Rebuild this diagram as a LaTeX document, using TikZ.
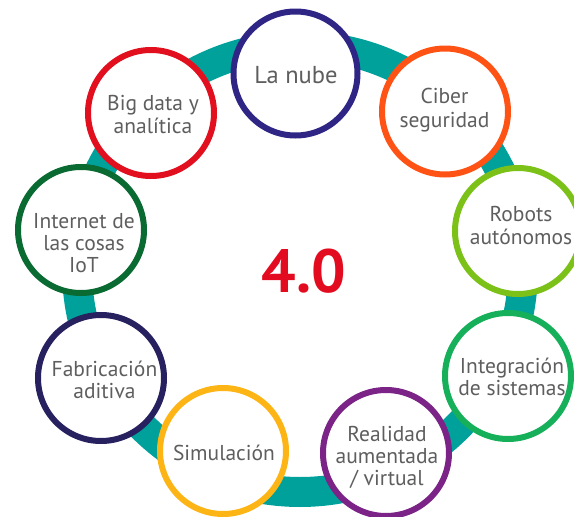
\documentclass[tikz,border=0pt]{standalone}
\usepackage{fontspec}
\setmainfont{PT Sans}
\definecolor{ringteal}{HTML}{00A19A}
\definecolor{cnube}{HTML}{2E2585}
\definecolor{cciber}{HTML}{FF5215}
\definecolor{cbig}{HTML}{E2101F}
\definecolor{cinternet}{HTML}{0A6B32}
\definecolor{crobots}{HTML}{7CC118}
\definecolor{cfab}{HTML}{28215F}
\definecolor{cinteg}{HTML}{17B05A}
\definecolor{csimul}{HTML}{FDB515}
\definecolor{creal}{HTML}{7B2386}
\definecolor{cfour}{HTML}{E30B1F}
\definecolor{txtgray}{HTML}{5E5E5E}
\begin{document}
\begin{tikzpicture}[x=1pt,y=-1pt,
  bubble/.style={circle, draw=#1, line width=6pt, fill=white, minimum size=126pt, inner sep=0pt},
  lbl/.style={anchor=north, align=center, inner sep=0pt, text=txtgray, font=\fontsize{21.5}{22}\selectfont},
  ringline/.style={draw=ringteal, line width=30pt}]
\useasboundingbox (0,0) rectangle (574,517);
\clip (0,0) rectangle (574,517);
\coordinate (ringc) at (300,269);
\draw[ringline] (ringc) circle[radius=223];
% circles
\node[bubble=cnube, minimum size=124pt] (nube) at (295.5,73.5) {};
\node[bubble=cciber] (ciber) at (445,111.5) {};
\node[bubble=crobots] (robots) at (518,231) {};
\node[bubble=cinteg] (integ) at (508,376) {};
\node[bubble=creal] (real) at (386,453) {};
\node[bubble=csimul] (simul) at (223,451) {};
\node[bubble=cfab] (fab) at (101,378) {};
\node[bubble=cinternet] (internet) at (81,230) {};
\node[bubble=cbig] (big) at (151,113) {};
% labels
\node[lbl, font=\fontsize{24.5}{22}\selectfont] (nubet) at (296,66.6) {\strut La nube};
\node[lbl, font=\fontsize{21.5}{24}\selectfont] (cibert) at (444.5,86.2) {\strut Ciber\\\strut seguridad};
\node[lbl] (bigt) at (153,94.6) {\strut Big data y\\\strut analítica};
\node[lbl] (internett) at (84,212.6) {\strut Internet de\\\strut las cosas\\\strut IoT};
\node[lbl] (robotst) at (521,205.6) {\strut Robots\\\strut autónomos};
\node[lbl] (fabt) at (104.5,360.6) {\strut Fabricación\\\strut aditiva};
\node[lbl] (integt) at (512,357.6) {\strut Integración\\\strut de sistemas};
\node[lbl] (simult) at (224,444.6) {\strut Simulación};
\node[lbl] (realt) at (387,425.6) {\strut Realidad\\\strut aumentada\\\strut / virtual};
\node[anchor=base, inner sep=0pt, text=cfour, font=\fontsize{61}{61}\selectfont\bfseries] (four) at (304,292) {4.0};
\end{tikzpicture}
\end{document}
